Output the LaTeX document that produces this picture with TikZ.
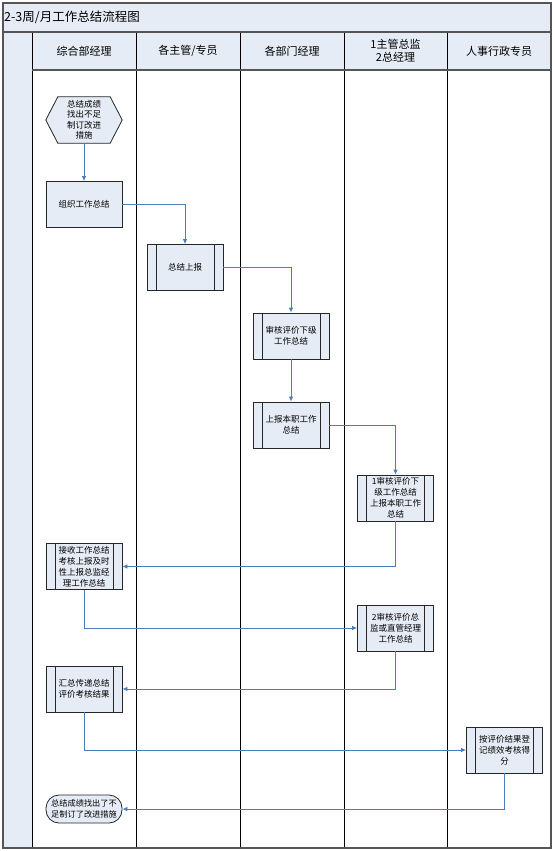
\documentclass[tikz,border=0pt]{standalone}
\usepackage{fontspec}
\setmainfont{Noto Sans CJK SC}
\usetikzlibrary{arrows.meta}
\definecolor{lblue}{HTML}{E6ECF6}
\definecolor{lineblue}{HTML}{4A7EBB}
\definecolor{framegray}{HTML}{555555}
\tikzset{
  box/.style={draw=black!85, line width=0.8pt, fill=lblue, minimum width=76pt, minimum height=46pt,
    inner sep=0pt, align=center, font=\fontsize{8.5}{11}\selectfont},
  pbox/.style={box, path picture={
    \draw[black!85, line width=0.8pt] ([xshift=9pt]path picture bounding box.north west) -- ([xshift=9pt]path picture bounding box.south west);
    \draw[black!85, line width=0.8pt] ([xshift=-9pt]path picture bounding box.north east) -- ([xshift=-9pt]path picture bounding box.south east);}},
  termbox/.style={draw=black!85, line width=0.8pt, fill=lblue, minimum width=76pt, minimum height=28pt,
    rounded corners=13pt, inner sep=0pt, align=center, font=\fontsize{8.2}{10.5}\selectfont},
  hexbox/.style={minimum width=76pt, minimum height=46pt, inner sep=0pt, align=center, font=\fontsize{8.5}{10.5}\selectfont},
  conn/.style={draw=lineblue, line width=0.8pt, -{Latex[length=5pt,width=4.5pt]}},
  lane/.style={draw=black, line width=0.8pt},
  headtxt/.style={font=\fontsize{11}{13}\selectfont, align=center}
}
\begin{document}
\begin{tikzpicture}[x=1pt,y=-1pt]
\useasboundingbox (0,0) rectangle (554,851);
% backgrounds
\fill[lblue] (3,3) rectangle (551,32);
\fill[lblue] (3,32) rectangle (32,848);
\fill[lblue] (32,32) rectangle (551,70);
% lane lines
\foreach \x in {32,136,240,344,447} \draw[lane] (\x,32) -- (\x,848);
\draw[framegray, line width=1.5pt] (3,32) -- (551,32);
\draw[framegray, line width=2pt] (32,70) -- (551,70);
\draw[framegray, line width=1.2pt] (3,3) rectangle (551,848);
% title and headers
\node[anchor=west, font=\fontsize{12.5}{14}\selectfont, inner sep=0pt] (title) at (4,17) {2-3周/月工作总结流程图};
\node[headtxt] (h1) at (84,51) {综合部经理};
\node[headtxt] (h2) at (188,51) {各主管/专员};
\node[headtxt] (h3) at (292,51) {各部门经理};
\node[headtxt] (h4) at (395.5,51) {1主管总监\\2总经理};
\node[headtxt] (h5) at (499,51) {人事行政专员};
% nodes
\node[hexbox] (hex) at (84,120) {总结成绩\\找出不足\\制订改进\\措施};
\draw[black!85, line width=0.8pt, fill=lblue] (hex.west) -- ([xshift=12pt]hex.north west) -- ([xshift=-12pt]hex.north east) -- (hex.east) -- ([xshift=-12pt]hex.south east) -- ([xshift=12pt]hex.south west) -- cycle;
\node[hexbox] at (hex) {总结成绩\\找出不足\\制订改进\\措施};
\node[box] (org) at (84,204.5) {组织工作总结};
\node[pbox] (sum) at (185,267.5) {总结上报};
\node[pbox] (rev) at (291,336) {审核评价下级\\工作总结};
\node[pbox] (rep) at (291,425) {上报本职工作\\总结};
\node[pbox] (d1) at (395.5,498) {1审核评价下\\级工作总结\\上报本职工作\\总结};
\node[pbox] (recv) at (84,566.5) {接收工作总结\\考核上报及时\\性上报总监经\\理工作总结};
\node[pbox] (d2) at (395.5,628) {2审核评价总\\监或直管经理\\工作总结};
\node[pbox] (agg) at (84,689) {汇总传递总结\\评价考核结果};
\node[pbox] (hr) at (504.5,750) {按评价结果登\\记绩效考核得\\分};
\node[termbox] (term) at (84,809) {总结成绩找出了不\\足制订了改进措施};
% connectors
\draw[conn] (hex) -- (org);
\draw[conn] (org.east) -| (sum.north);
\draw[conn] (sum.east) -| (rev.north);
\draw[conn] (rev) -- (rep);
\draw[conn] (rep.east) -| (d1.north);
\draw[conn] (d1.south) |- (recv.east);
\draw[conn] (recv.south) |- (d2.west);
\draw[conn] (d2.south) |- (agg.east);
\draw[conn] (agg.south) |- (hr.west);
\draw[conn] (hr.south) |- (term.east);
\end{tikzpicture}
\end{document}
